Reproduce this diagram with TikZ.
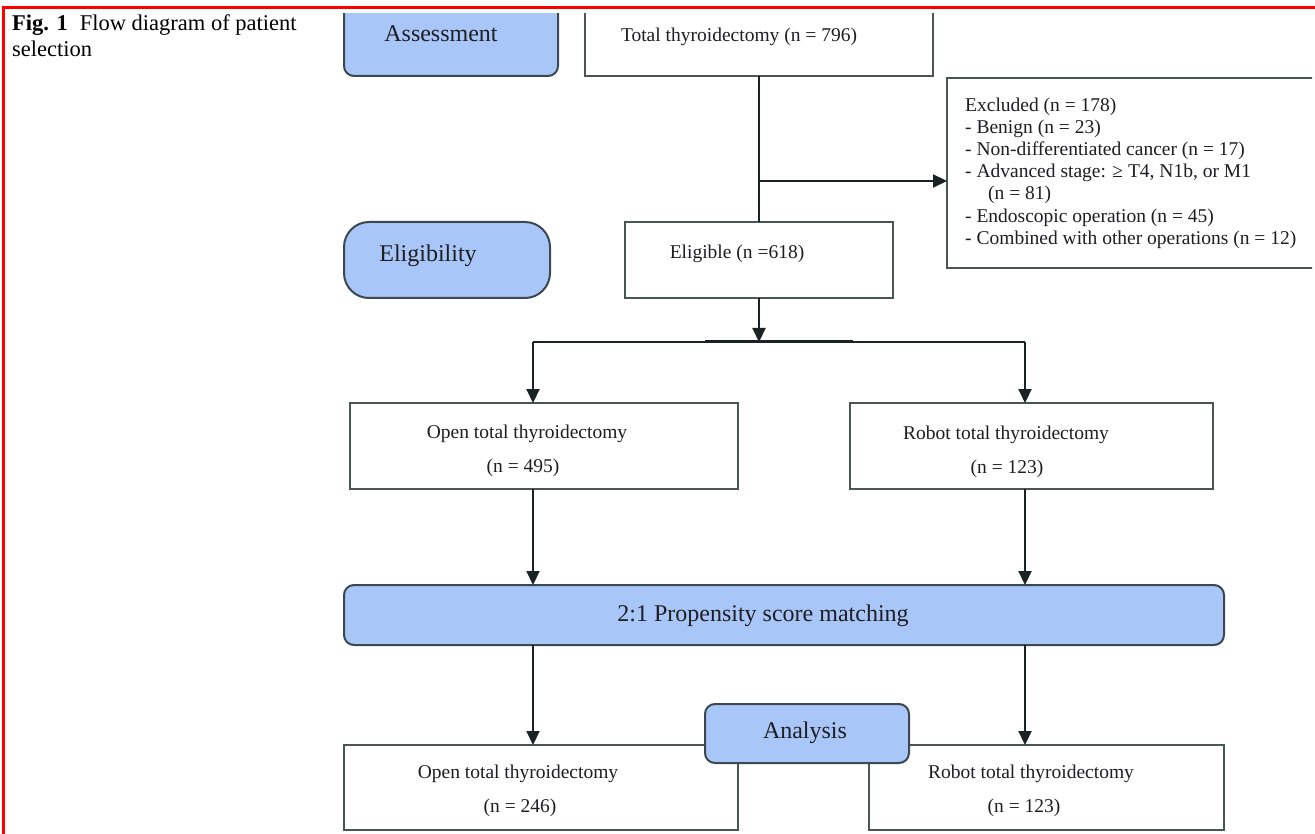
\documentclass[tikz,border=0pt]{standalone}
\usepackage{fontspec}
\setmainfont{Liberation Serif}
\usetikzlibrary{arrows.meta}
\definecolor{bluefill}{RGB}{168,198,248}
\definecolor{blueline}{RGB}{60,72,80}
\definecolor{boxline}{RGB}{72,86,84}
\definecolor{arrline}{RGB}{25,35,35}
\definecolor{framered}{RGB}{255,0,0}
\definecolor{txtcol}{RGB}{30,30,35}
\begin{document}
\begin{tikzpicture}[x=1pt,y=-1pt,
  box/.style={draw=boxline, line width=2pt, fill=white, inner sep=0pt, outer sep=0pt},
  bluebox/.style={draw=blueline, line width=2pt, fill=bluefill, rounded corners=10pt, inner sep=0pt, outer sep=0pt},
  txt/.style={font=\fontsize{19.5}{22}\selectfont, inner sep=0pt, anchor=base, text=txtcol},
  ltxt/.style={txt, anchor=base west},
  bigtxt/.style={font=\fontsize{24}{28}\selectfont, inner sep=0pt, anchor=base, text=txtcol},
  captxt/.style={font=\fontsize{22.5}{26}\selectfont, inner sep=0pt, anchor=base west},
  conn/.style={line width=2.2pt, draw=arrline},
  arr/.style={conn, -{Triangle[length=14pt,width=13pt]}}
]
\useasboundingbox (0,0) rectangle (1315,834);
\fill[white] (0,0) rectangle (1315,834);

% caption
\node[captxt] (cap1) at (12,31) {\textbf{Fig. 1}\hspace{12pt}Flow diagram of patient};
\node[captxt] (cap2) at (12,57) {selection};

\begin{scope}
\clip (0,14) rectangle (1312,834);
% top row
\node[bluebox, minimum width=214pt, minimum height=90pt] (assess) at (451,31) {};
\node[box, minimum width=348pt, minimum height=90pt] (total) at (759,31) {};
\node[box, minimum width=393pt, minimum height=190pt] (excl) at (1143.5,173) {};
% eligibility row
\node[bluebox, rounded corners=25pt, minimum width=206pt, minimum height=76pt] (eligibility) at (447,260) {};
\node[box, minimum width=268pt, minimum height=76pt] (elig) at (759,260) {};
% groups
\node[box, minimum width=388pt, minimum height=86pt] (open) at (544,446) {};
\node[box, minimum width=363pt, minimum height=86pt] (robot) at (1031.5,446) {};
% PSM
\node[bluebox, minimum width=880pt, minimum height=60pt] (psm) at (784,615) {};
% matched groups
\node[box, minimum width=394pt, minimum height=85pt] (open2) at (541,787.5) {};
\node[box, minimum width=355pt, minimum height=85pt] (robot2) at (1046.5,787.5) {};
\node[bluebox, minimum width=204pt, minimum height=59pt] (analysis) at (807,733.5) {};
\end{scope}

% texts
\node[bigtxt] (assesst) at (441,42) {Assessment};
\node[txt] (totalt) at (739,42) {Total thyroidectomy (n = 796)};
\node[ltxt] (ex1) at (965,112) {Excluded (n = 178)};
\node[ltxt] (ex2) at (965,134) {- Benign (n = 23)};
\node[ltxt] (ex3) at (965,156) {- Non-differentiated cancer (n = 17)};
\node[ltxt] (ex4) at (965,178) {- Advanced stage: ≥ T4, N1b, or M1};
\node[ltxt] (ex5) at (988,200) {(n = 81)};
\node[ltxt] (ex6) at (965,223) {- Endoscopic operation (n = 45)};
\node[ltxt] (ex7) at (965,245) {- Combined with other operations (n = 12)};
\node[bigtxt] (eligibilityt) at (428,262) {Eligibility};
\node[txt] (eligt) at (737,259) {Eligible (n =618)};
\node[txt] (opent1) at (527,438) {Open total thyroidectomy};
\node[txt] (opent2) at (523,472) {(n = 495)};
\node[txt] (robott1) at (1006,439) {Robot total thyroidectomy};
\node[txt] (robott2) at (1007,473) {(n = 123)};
\node[bigtxt] (psmt) at (763,621) {2:1 Propensity score matching};
\node[bigtxt] (analysist) at (805,738) {Analysis};
\node[txt] (open2t1) at (518,778) {Open total thyroidectomy};
\node[txt] (open2t2) at (520,812) {(n = 246)};
\node[txt] (robot2t1) at (1031,778) {Robot total thyroidectomy};
\node[txt] (robot2t2) at (1024,812) {(n = 123)};

% connectors
\coordinate (branch) at (759,181);
\coordinate (split) at (759,342);
\coordinate (sl) at (533,342);
\coordinate (sr) at (1025,342);
\coordinate (thl) at (705,342);
\coordinate (thr) at (853,342);
\draw[conn] (total.south) -- (elig.north);
\draw[arr] (branch) -- (excl.west |- branch);
\draw[conn] (sl) -- (sr);
\draw[line width=3pt, draw=arrline] (thl) -- (thr);
\draw[arr] (elig.south) -- (split);
\draw[arr] (sl) -- (sl |- open.north);
\draw[arr] (sr) -- (sr |- robot.north);
\draw[arr] (sl |- open.south) -- (sl |- psm.north);
\draw[arr] (sr |- robot.south) -- (sr |- psm.north);
\draw[arr] (sl |- psm.south) -- (sl |- open2.north);
\draw[arr] (sr |- psm.south) -- (sr |- robot2.north);

% red frame
\coordinate (fbl) at (3.5,834);
\coordinate (ftl) at (3.5,7.5);
\coordinate (ftr) at (1315,7.5);
\draw[framered, line width=2.5pt] (fbl) -- (ftl) -- (ftr);
\end{tikzpicture}
\end{document}
